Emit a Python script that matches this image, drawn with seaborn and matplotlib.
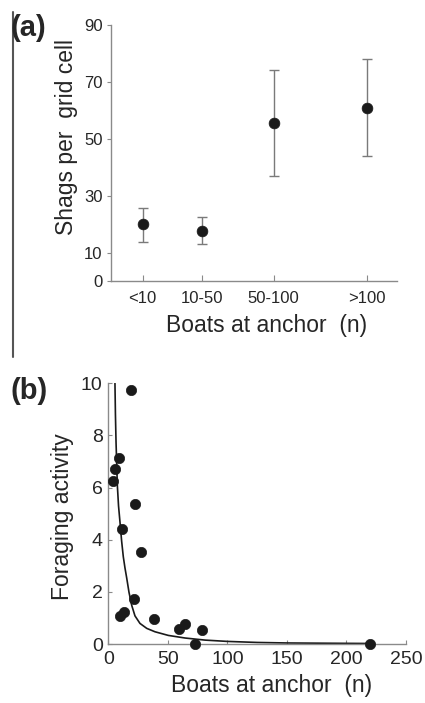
import numpy as np
import pandas as pd
import matplotlib
matplotlib.use("Agg")
import matplotlib.pyplot as plt
import seaborn as sns

# Panel (a): shags per grid cell by boats at anchor
categories = ["<10", "10-50", "50-100", ">100"]
shag_mean = [20.0, 17.7, 55.4, 60.7]
shag_upper = [25.5, 22.5, 74.3, 78.2]
shag_lower = [13.7, 13.1, 36.9, 44.0]

# Panel (b): foraging activity vs boats at anchor
boats = [4.0, 5.4, 8.7, 18.8, 22.2, 11.5, 27.2, 21.3, 9.6, 13.2,
         38.1, 59.2, 64.7, 78.5, 72.9, 219.8]
foraging = [6.27, 6.73, 7.14, 9.76, 5.36, 4.41, 3.54, 1.71, 1.08, 1.24,
            0.95, 0.59, 0.78, 0.52, 0.0, 0.0]

# fitted curve
fit_x = [5.6, 6.0, 6.5, 7.6, 8.6, 9.8, 11.2, 12.6, 14.0, 15.4, 17.4, 19.7,
         22.4, 26.6, 32.3, 39.2, 50.4, 64.5, 81.3, 100, 125, 150, 185, 220]
fit_y = [10.0, 8.8, 7.75, 6.09, 5.3, 4.69, 3.95, 3.35, 2.92, 2.55, 1.98, 1.48,
         1.08, 0.79, 0.60, 0.47, 0.33, 0.23, 0.15, 0.10, 0.06, 0.04, 0.03, 0.02]

sns.set_style("ticks")
plt.rcParams['font.family'] = ['Liberation Sans', 'DejaVu Sans']

fig = plt.figure(figsize=(4.25, 7.03), dpi=100)
spine_col = "#8a8a8a"

# ---- panel (a)
ax1 = fig.add_axes([0.261, 0.6003, 0.673, 0.364])
cat_pos = [1.0, 2.86, 5.12, 8.05]  # uneven spacing as in original
df_a = pd.DataFrame({"pos": cat_pos, "mean": shag_mean})
yerr = [np.array(shag_mean) - np.array(shag_lower),
        np.array(shag_upper) - np.array(shag_mean)]
ax1.errorbar(cat_pos, shag_mean, yerr=yerr, fmt="none", ecolor="#7a7a7a",
             elinewidth=1, capsize=3.5, capthick=1, zorder=2)
sns.scatterplot(data=df_a, x="pos", y="mean", ax=ax1, color="#1a1a1a",
                s=60, edgecolor="#1a1a1a", linewidth=0.5, zorder=3, legend=False)
ax1.set_xlim(0, 9)
ax1.set_ylim(0, 90)
ax1.set_yticks([0, 10, 30, 50, 70, 90])
ax1.set_xticks(cat_pos)
ax1.set_xticklabels(categories)
ax1.tick_params(axis="x", direction="in", length=4, color=spine_col, labelsize=12, pad=7)
ax1.tick_params(axis="y", direction="out", length=3, color=spine_col, labelsize=12, pad=3)
ax1.set_xlabel("Boats at anchor  (n)", fontsize=16.5, labelpad=6)
ax1.set_ylabel("Shags per  grid cell", fontsize=16.5, labelpad=4)
ax1.xaxis.label.set_x(0.545)
ax1.yaxis.label.set_y(0.562)
sns.despine(ax=ax1)
for s in ["left", "bottom"]:
    ax1.spines[s].set_color(spine_col)
    ax1.spines[s].set_linewidth(1)

# ---- panel (b)
ax2 = fig.add_axes([0.2548, 0.0839, 0.7005, 0.3708])
df_b = pd.DataFrame({"boats": boats, "foraging": foraging})
df_fit = pd.DataFrame({"x": fit_x, "y": fit_y})
sns.lineplot(data=df_fit, x="x", y="y", ax=ax2, color="#1a1a1a", lw=1.2,
             sort=False, zorder=2)
sns.scatterplot(data=df_b, x="boats", y="foraging", ax=ax2, color="#1a1a1a",
                s=55, edgecolor="#1a1a1a", linewidth=0.5, zorder=3,
                legend=False, clip_on=False)
ax2.set_xlim(0, 250)
ax2.set_ylim(0, 10)
ax2.set_xticks([0, 50, 100, 150, 200, 250])
ax2.set_yticks([0, 2, 4, 6, 8, 10])
ax2.tick_params(axis="both", direction="in", length=3, color=spine_col, labelsize=14)
ax2.tick_params(axis="x", pad=5)
ax2.tick_params(axis="y", pad=4)
ax2.set_xlabel("Boats at anchor  (n)", fontsize=16.5, labelpad=4)
ax2.set_ylabel("Foraging activity", fontsize=16.5, labelpad=5)
ax2.xaxis.label.set_x(0.55)
ax2.yaxis.label.set_y(0.487)
sns.despine(ax=ax2)
for s in ["left", "bottom"]:
    ax2.spines[s].set_color(spine_col)
    ax2.spines[s].set_linewidth(1)

# panel letters and the separator line
fig.text(10 / 425, 1 - 28 / 703, "(a)", fontsize=21, fontweight="bold", va="center", ha="left")
fig.text(10 / 425, 1 - 391 / 703, "(b)", fontsize=21, fontweight="bold", va="center", ha="left")
fig.add_artist(plt.Line2D([12.5 / 425, 12.5 / 425], [1 - 12 / 703, 1 - 357 / 703],
                          color="#555555", lw=1.5))

fig.savefig("out.png", dpi=100)
